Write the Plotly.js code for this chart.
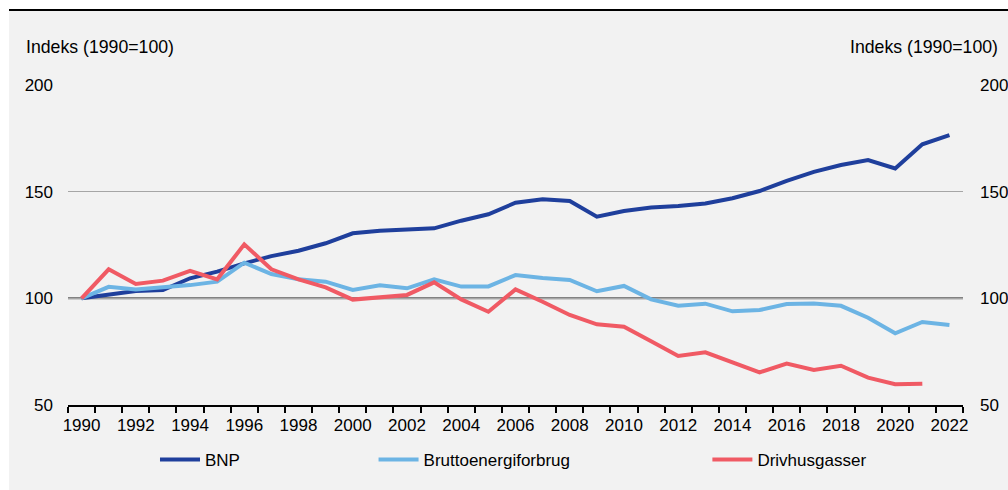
<!DOCTYPE html>
<html>
<head>
<meta charset="utf-8">
<script src="https://cdn.plot.ly/plotly-3.0.1.min.js"></script>
<style>
  html, body { margin: 0; padding: 0; background: #ffffff; width: 1008px; height: 490px; overflow: hidden; }
  #wrap { position: absolute; left: 9px; top: 9px; width: 999px; height: 481px; border-top: 2px solid #000; background: #f2f2f2; }
  #chart { width: 999px; height: 479px; }
</style>
</head>
<body>
<div id="wrap"><div id="chart"></div></div>
<script>
const years = [1990,1991,1992,1993,1994,1995,1996,1997,1998,1999,2000,2001,2002,2003,2004,2005,2006,2007,2008,2009,2010,2011,2012,2013,2014,2015,2016,2017,2018,2019,2020,2021,2022];
const bnp = [100,101.5,103.4,103.9,109.4,112.5,116.4,119.8,122.3,125.8,130.5,131.7,132.3,132.8,136.4,139.4,144.8,146.4,145.6,138.3,140.9,142.6,143.3,144.5,146.9,150.3,155.1,159.3,162.5,164.8,160.9,172.2,176.5];
const brutto = [100,105.4,104.2,105.1,106.2,107.8,116.7,111.4,108.9,107.8,103.9,106.1,104.7,108.9,105.5,105.6,110.9,109.5,108.6,103.3,105.8,99.5,96.5,97.5,93.9,94.5,97.3,97.6,96.5,90.9,83.6,88.9,87.5];
const drivhus = [100,113.6,106.7,108.3,112.9,108.9,125.3,113.6,108.9,105.1,99.4,100.5,101.6,107.5,99.5,93.7,104.2,98.4,92.2,87.8,86.7,79.9,73.0,74.7,70.0,65.3,69.4,66.4,68.4,62.8,59.7,60.0,null];
const seriesNames = ["BNP", "Bruttoenergiforbrug", "Drivhusgasser"];
const yTicks = [50, 100, 150, 200];
const xTickYears = [1990,1992,1994,1996,1998,2000,2002,2004,2006,2008,2010,2012,2014,2016,2018,2020,2022];
const yTitle = "Indeks (1990=100)";

const FONT = "Liberation Sans, Arial, Helvetica, sans-serif";
const colors = ["#1f3f9c", "#6cb4e4", "#f05a64"];

const traces = [
  {x: years, y: bnp, name: seriesNames[0], legend: "legend"},
  {x: years, y: brutto, name: seriesNames[1], legend: "legend2"},
  {x: years, y: drivhus, name: seriesNames[2], legend: "legend3"}
].map((t, i) => Object.assign(t, {
  type: "scatter", mode: "lines",
  line: {color: colors[i], width: 4},
  hoverinfo: "x+y+name"
}));
// invisible trace to activate right axis
traces.push({x: [years[0]], y: [100], yaxis: "y2", mode: "markers", marker: {opacity: 0}, showlegend: false, hoverinfo: "skip"});

const legendBase = {
  orientation: "h", yanchor: "middle", xanchor: "left", y: -0.172,
  bgcolor: "rgba(0,0,0,0)", font: {family: FONT, size: 17, color: "#000"},
  itemwidth: 40, tracegroupgap: 0
};

const layout = {
  width: 999, height: 479,
  margin: {l: 59, r: 45, t: 74, b: 85},
  paper_bgcolor: "#f2f2f2", plot_bgcolor: "#f2f2f2",
  font: {family: FONT, size: 17, color: "#000"},
  showlegend: true,
  legend: Object.assign({}, legendBase, {x: 0.0972}),
  legend2: Object.assign({}, legendBase, {x: 0.3414}),
  legend3: Object.assign({}, legendBase, {x: 0.7144}),
  xaxis: {
    range: [1989.5, 2022.5], fixedrange: true,
    tickmode: "array", tickvals: xTickYears, ticktext: xTickYears.map(String),
    ticks: "", showgrid: false, zeroline: false,
    showline: true, linecolor: "#000", linewidth: 2,
    tickfont: {family: FONT, size: 17, color: "#000"},
    ticklabelstandoff: 4,
    minor: {tickmode: "linear", tick0: 1989.5, dtick: 1, ticks: "outside", ticklen: 6, tickcolor: "#000", tickwidth: 1.5, showgrid: false}
  },
  yaxis: {
    range: [50, 200], fixedrange: true,
    tickmode: "array", tickvals: yTicks, ticks: "",
    showgrid: true, gridcolor: "#a6a6a6", gridwidth: 1,
    zeroline: false, showline: false,
    tickfont: {family: FONT, size: 17, color: "#000"},
    ticklabelstandoff: 14
  },
  yaxis2: {
    range: [50, 200], fixedrange: true, overlaying: "y", side: "right",
    tickmode: "array", tickvals: yTicks, ticks: "",
    showgrid: false, zeroline: false, showline: false,
    tickfont: {family: FONT, size: 17, color: "#000"},
    ticklabelstandoff: 16
  },
  shapes: [
    {type: "line", xref: "paper", x0: 0, x1: 1, yref: "y", y0: 100, y1: 100, layer: "below",
     line: {color: "#5c5c5c", width: 2}}
  ],
  annotations: [
    {text: yTitle, xref: "paper", yref: "paper", x: -0.0492, y: 1.119, xanchor: "left", yanchor: "middle",
     showarrow: false, font: {family: FONT, size: 17.7, color: "#000"}},
    {text: yTitle, xref: "paper", yref: "paper", x: 1.0413, y: 1.119, xanchor: "right", yanchor: "middle",
     showarrow: false, font: {family: FONT, size: 17.7, color: "#000"}}
  ]
};

Plotly.newPlot("chart", traces, layout, {displayModeBar: false, staticPlot: false, responsive: false});
</script>
</body>
</html>
